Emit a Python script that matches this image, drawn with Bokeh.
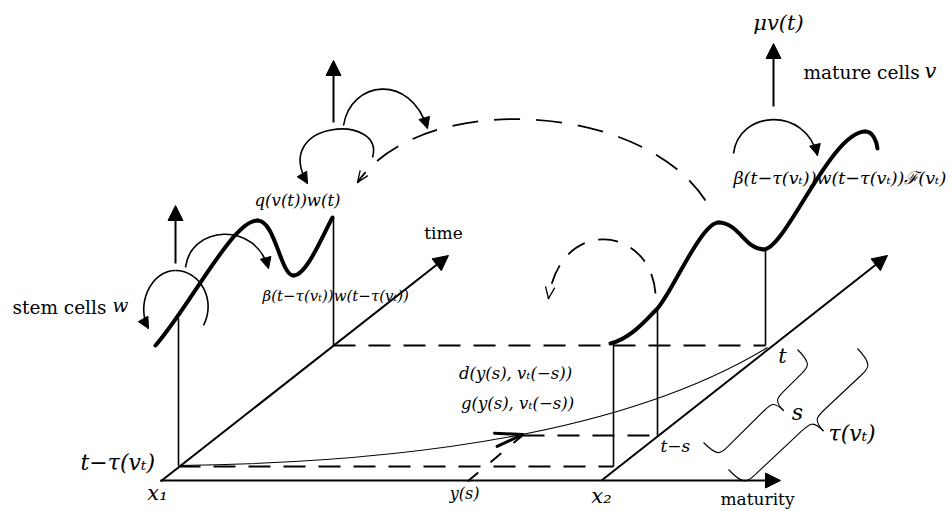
import math
from bokeh.plotting import figure
from bokeh.models import Range1d, Arrow, NormalHead
from bokeh.core.properties import value
from bokeh.embed import file_html
from bokeh.resources import INLINE

FONT = "DejaVu Serif"

# ---------- scene geometry (reference pixel coordinates, y grows downward) ----------
# cubic Bezier pieces: (x0, y0, cx0, cy0, cx1, cy1, x1, y1)
stem_curve = [
    (155, 345, 190, 305, 232, 220, 257, 220),
    (257, 220, 275, 220, 280, 275, 293, 275),
    (293, 275, 306, 275, 322, 235, 332, 217),
]
mature_curve = [
    (610, 343, 630, 338, 645, 320, 655, 310),
    (655, 310, 668, 300, 700, 222, 718, 222),
    (718, 222, 738, 222, 745, 249, 763, 249),
    (763, 249, 785, 249, 830, 131, 865, 131),
    (865, 131, 872, 131, 876, 140, 877, 148),
]
solid_arcs = [
    (343, 125, 350, 80, 410, 72, 427, 128),
    (372, 157, 385, 112, 270, 120, 307, 183),
    (185, 267, 190, 225, 255, 220, 268, 268),
    (203, 325, 216, 300, 200, 270, 175, 270),
    (175, 270, 150, 270, 135, 305, 148, 328),
    (733, 153, 738, 110, 805, 105, 817, 155),
]
solid_arc_heads = [0, 1, 2, 4, 5]
dashed_arcs = [
    (705, 200, 640, 100, 420, 90, 357, 182),
    (655, 293, 650, 225, 560, 215, 548, 298),
]
dashed_arc_dash = ["26 16", "20 14"]
flow_curve = (178, 465, 420, 462, 630, 430, 767, 347)
flow_tip_x = 522

# straight lines
vert_x = [178, 333, 613, 657, 765]
vert_top = [318, 217, 343, 310, 249]
vert_bot = [465, 345, 466, 435, 345]

dash_h_y = [345, 466, 435]
dash_h_x0 = [333, 178, 522]
dash_h_x1 = [765, 613, 657]

dash_ob = (467, 481, 522, 435)

axis_arrows = [  # (x0, y0, x1, y1)
    (160, 481, 448, 255),   # time axis
    (601, 480, 887, 255),   # second time axis (through x2)
    (160, 480, 780, 480),   # maturity axis
    (175, 263, 175, 205),
    (333, 122, 333, 60),
    (773, 106, 773, 43),
]

# braces: (top x, top y, bottom x, bottom y, h, cusp h, cusp fraction, hook)
braces = [
    (797, 349, 703, 442, 20, 34, 0.40, 14),
    (857, 348, 728, 469, 22, 37, 0.46, 16),
]

# ---------- labels ----------
lab_text = ["\u03bcv(t)", "mature cells", "v",
            "\u03b2(t\u2212\u03c4(v\u209c))w(t\u2212\u03c4(v\u209c))\u2131(v\u209c)",
            "q(v(t))w(t)", "\u03b2(t\u2212\u03c4(v\u209c))w(t\u2212\u03c4(v\u209c))",
            "time", "stem cells", "w", "t\u2212\u03c4(v\u209c)", "x\u2081", "y(s)",
            "x\u2082", "maturity", "t", "t\u2212s", "s", "\u03c4(v\u209c)",
            "d(y(s), v\u209c(\u2212s))", "g(y(s), v\u209c(\u2212s))"]
lab_x = [778, 803, 924, 733, 297, 262, 443, 12, 112, 80, 157, 464,
         601, 757, 782, 660, 797, 828, 515, 517]
lab_y = [22, 72, 70, 177, 200, 295, 232, 307, 305, 462, 492, 493,
         495, 498, 355, 445, 412, 433, 373, 403]
lab_size = [21, 18.5, 21, 17.5, 16.5, 15, 17, 18.5, 18.5, 22, 21, 16,
            21, 17, 21, 17, 22, 22, 16.5, 16.5]
lab_style = ["italic", "normal", "italic", "italic", "italic", "italic", "normal",
             "normal", "italic", "italic", "italic", "italic", "italic", "normal",
             "italic", "italic", "italic", "italic", "italic", "italic"]
lab_align = ["center", "left", "left", "left", "center", "left", "center",
             "left", "left", "left", "center", "center", "center", "center",
             "center", "left", "center", "left", "center", "center"]


# ---------- helpers ----------
def bez(p, pieces, **kw):
    p.bezier(x0=[c[0] for c in pieces], y0=[c[1] for c in pieces],
             cx0=[c[2] for c in pieces], cy0=[c[3] for c in pieces],
             cx1=[c[4] for c in pieces], cy1=[c[5] for c in pieces],
             x1=[c[6] for c in pieces], y1=[c[7] for c in pieces], **kw)


def bez_pt(c, t):
    u = 1 - t
    x = u**3*c[0] + 3*u*u*t*c[2] + 3*u*t*t*c[4] + t**3*c[6]
    y = u**3*c[1] + 3*u*u*t*c[3] + 3*u*t*t*c[5] + t**3*c[7]
    return x, y


def bez_d(c, t):
    u = 1 - t
    dx = 3*(u*u*(c[2]-c[0]) + 2*u*t*(c[4]-c[2]) + t*t*(c[6]-c[4]))
    dy = 3*(u*u*(c[3]-c[1]) + 2*u*t*(c[5]-c[3]) + t*t*(c[7]-c[5]))
    return dx, dy


def solid_head(p, tx, ty, dx, dy, size):
    n = math.hypot(dx, dy)
    sx, sy = tx - dx / n * 2, ty - dy / n * 2
    p.add_layout(Arrow(x_start=sx, y_start=sy, x_end=tx, y_end=ty, line_alpha=0,
                       end=NormalHead(size=size, fill_color="black",
                                      line_color="black", line_width=1)))


def open_head(p, tx, ty, dx, dy, length, half_deg, lw):
    n = math.hypot(dx, dy)
    ux, uy = -dx / n, -dy / n
    xs0, ys0, xs1, ys1 = [], [], [], []
    for s in (1, -1):
        a = math.radians(half_deg) * s
        rx = ux * math.cos(a) - uy * math.sin(a)
        ry = ux * math.sin(a) + uy * math.cos(a)
        xs0.append(tx); ys0.append(ty)
        xs1.append(tx + rx * length); ys1.append(ty + ry * length)
    p.segment(x0=xs0, y0=ys0, x1=xs1, y1=ys1, line_color="black",
              line_width=lw, line_cap="round")


def brace_pieces(b):
    ax, ay, bx, by, h, ch, frac, k = b
    L = math.hypot(bx - ax, by - ay)
    ux, uy = (bx - ax) / L, (by - ay) / L
    nx, ny = uy, -ux
    c = frac * L
    loc = [
        (0, 0, 0, h, 0.3*k, h, k, h),
        (k, h, k, h, c - k, h, c - k, h),
        (c - k, h, c - 0.3*k, h, c, h, c, ch),
        (c, ch, c, h, c + 0.3*k, h, c + k, h),
        (c + k, h, c + k, h, L - k, h, L - k, h),
        (L - k, h, L - 0.3*k, h, L, h, L, 0),
    ]
    out = []
    for q in loc:
        pts = []
        for i in range(4):
            u_, v_ = q[2*i], q[2*i+1]
            pts += [ax + u_*ux + v_*nx, ay + u_*uy + v_*ny]
        out.append(tuple(pts))
    return out


# ---------- figure ----------
p = figure(width=952, height=511, x_range=Range1d(0, 952), y_range=Range1d(511, 0),
           x_axis_type=None, y_axis_type=None, output_backend="svg",
           toolbar_location=None, min_border=0)
p.outline_line_color = None
p.background_fill_color = "white"

# vertical thin lines
p.segment(x0=vert_x, y0=vert_top, x1=vert_x, y1=vert_bot, line_color="black", line_width=1.6)

# dashed horizontals
p.segment(x0=dash_h_x0, y0=dash_h_y, x1=dash_h_x1, y1=dash_h_y, line_color="black",
          line_width=2, line_dash="22 13")
p.segment(x0=[dash_ob[0]], y0=[dash_ob[1]], x1=[dash_ob[2]], y1=[dash_ob[3]],
          line_color="black", line_width=2, line_dash="14 16")

# axes with filled heads
for (x0, y0, x1, y1) in axis_arrows:
    p.add_layout(Arrow(x_start=x0, y_start=y0, x_end=x1, y_end=y1, line_width=2,
                       line_color="black",
                       end=NormalHead(size=15, fill_color="black", line_color="black")))

# thick population curves
bez(p, stem_curve, line_color="black", line_width=4, line_cap="round")
bez(p, mature_curve, line_color="black", line_width=4, line_cap="round")

# solid arcs with heads
bez(p, solid_arcs, line_color="black", line_width=1.6)
for i in solid_arc_heads:
    c = solid_arcs[i]
    solid_head(p, c[6], c[7], c[6] - c[4], c[7] - c[5], 11)

# dashed arcs with open heads
for c, d in zip(dashed_arcs, dashed_arc_dash):
    bez(p, [c], line_color="black", line_width=1.8, line_dash=d)
    open_head(p, c[6], c[7], c[6] - c[4], c[7] - c[5], 12, 22, 1.3)

# thin flow curve with open head
bez(p, [flow_curve], line_color="black", line_width=1.1)
lo, hi = 0.0, 1.0
for _ in range(40):
    mid = (lo + hi) / 2
    if bez_pt(flow_curve, mid)[0] < flow_tip_x:
        lo = mid
    else:
        hi = mid
fx, fy = bez_pt(flow_curve, lo)
fdx, fdy = bez_d(flow_curve, lo)
open_head(p, fx, fy, fdx, fdy, 28, 14, 3)

# braces
for b in braces:
    bez(p, brace_pieces(b), line_color="black", line_width=1.1)

# labels
for t, x, y, s, st, al in zip(lab_text, lab_x, lab_y, lab_size, lab_style, lab_align):
    p.text(x=[x], y=[y], text=[t], text_font=value(FONT), text_font_size=f"{s}px",
           text_font_style=st, text_align=al, text_baseline="middle", text_color="black")

open("out.html", "w").write(file_html(p, INLINE))
